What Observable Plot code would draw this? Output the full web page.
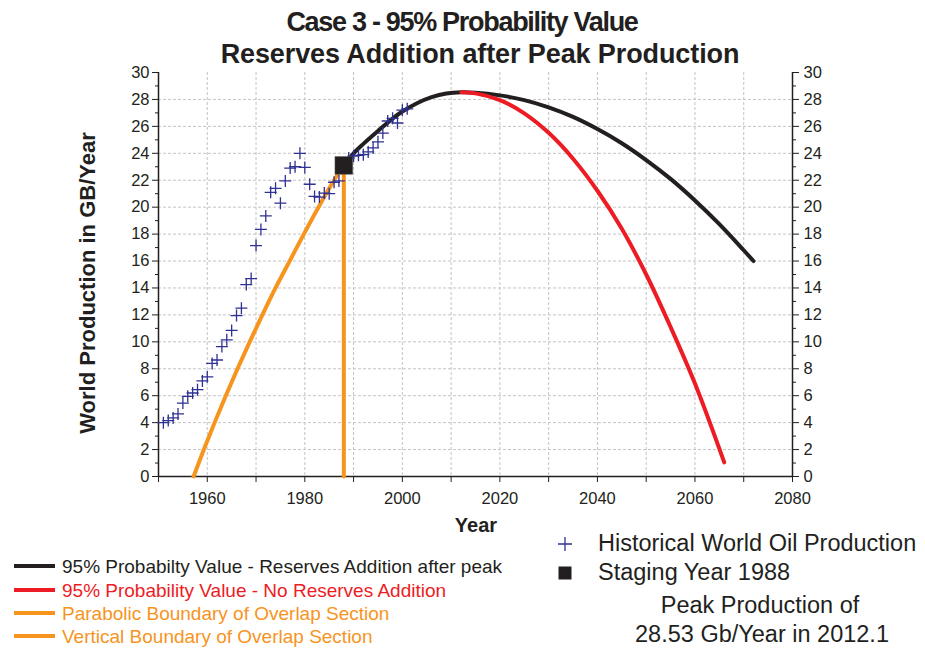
<!DOCTYPE html>
<html><head><meta charset="utf-8">
<script src="https://cdn.jsdelivr.net/npm/d3@7"></script>
<script src="https://cdn.jsdelivr.net/npm/@observablehq/plot@0.6"></script>
<style>
body{margin:0;background:#fff}
#wrap{position:relative;width:925px;height:649px;font-family:"Liberation Sans",Arial,sans-serif;color:#231f20;overflow:hidden}
#chart{position:absolute;left:0;top:0}
#chart svg text{font-size:16.5px !important;fill:#231f20}
.a{position:absolute;white-space:nowrap;line-height:1}
.c{transform:translate(-50%,-50%)}
.row{position:absolute;display:flex;align-items:center;white-space:nowrap;line-height:1}
.sw{display:inline-block;width:41px;height:4px;margin-right:7px}
</style></head><body>
<div id="wrap">
  <div id="chart"></div>
  <div class="a c" style="left:462px;top:22px;font-size:27px;font-weight:bold;letter-spacing:-1.3px">Case 3 - 95% Probability Value</div>
  <div class="a c" style="left:480px;top:54px;font-size:27px;font-weight:bold;letter-spacing:-0.1px">Reserves Addition after Peak Production</div>
  <div class="a" style="left:88px;top:283px;font-size:22px;font-weight:bold;transform:translate(-50%,-50%) rotate(-90deg)">World Production in GB/Year</div>
  <div class="a c" style="left:476px;top:525px;font-size:20px;font-weight:bold">Year</div>

  <div class="row" style="left:14px;top:556px;height:20px;font-size:19px;color:#231f20"><span class="sw" style="background:#231f20"></span>95% Probabilty Value - Reserves Addition after peak</div>
  <div class="row" style="left:14px;top:580px;height:20px;font-size:19px;color:#ed1c24"><span class="sw" style="background:#ed1c24"></span>95% Probability Value - No Reserves Addition</div>
  <div class="row" style="left:14px;top:603px;height:20px;font-size:19px;color:#f7941d"><span class="sw" style="background:#f7941d"></span>Parabolic Boundary of Overlap Section</div>
  <div class="row" style="left:14px;top:626px;height:20px;font-size:19px;color:#f7941d"><span class="sw" style="background:#f7941d"></span>Vertical Boundary of Overlap Section</div>

  <div class="row" style="left:555px;top:531px;height:26px;font-size:23.5px"><svg width="20" height="20" style="margin-right:23px"><path d="M3,10H17M10,3V17" stroke="#2e3192" stroke-width="1.3"/></svg>Historical World Oil Production</div>
  <div class="row" style="left:555px;top:560px;height:26px;font-size:23.5px"><svg width="20" height="20" style="margin-right:23px"><rect x="3.5" y="3.5" width="13" height="13" fill="#231f20"/></svg>Staging Year 1988</div>
  <div class="a c" style="left:760px;top:606px;font-size:23.5px">Peak Production of</div>
  <div class="a c" style="left:762px;top:635px;font-size:23.5px">28.53 Gb/Year in 2012.1</div>
</div>
<script>
// Historical world oil production (Gb/year)
const histYears = [1951,1952,1953,1954,1955,1956,1957,1958,1959,1960,1961,1962,1963,1964,1965,1966,1967,1968,1969,1970,1971,1972,1973,1974,1975,1976,1977,1978,1979,1980,1981,1982,1983,1984,1985,1986,1987,1988,1989,1990,1991,1992,1993,1994,1995,1996,1997,1998,1999,2000,2001];
const histValues = [4.0,4.15,4.35,4.65,5.45,5.95,6.2,6.45,7.1,7.4,8.4,8.65,9.65,10.15,10.85,11.95,12.5,14.25,14.7,17.15,18.35,19.35,21.1,21.4,20.3,21.95,22.9,23.0,24.0,22.95,21.7,20.8,20.75,21.05,21.0,21.85,21.95,23.1,23.65,23.8,23.85,23.9,24.1,24.4,24.85,25.5,26.4,26.6,26.25,27.2,27.3];

// 95% Probability value - reserves addition after peak
const blackYears = [1988,1990,1992,1995,1998,2000,2003,2006,2009,2012.1,2015,2020,2025,2030,2035,2040,2045,2050,2055,2060,2065,2070,2072];
const blackValues = [23.1,24.0,24.7,25.66,26.58,27.1,27.72,28.17,28.44,28.53,28.5,28.3,27.95,27.41,26.7,25.8,24.75,23.5,22.1,20.5,18.74,16.8,16.0];

// 95% Probability value - no reserves addition
const redYears = [2012.1,2015,2020,2025,2030,2035,2040,2045,2050,2055,2060,2066];
const redValues = [28.53,28.45,27.95,26.97,25.52,23.6,21.22,18.4,15.0,11.1,6.9,1.05];

// Parabolic boundary of overlap section
const paraYears = [1957.2,1959.3,1961.5,1963.8,1966.2,1968.7,1971.3,1974.0,1976.9,1979.8,1982.8,1986.0,1988];
const paraValues = [0,2,4,6,8,10,12,14,16,18,20,22,23.1];

// Vertical boundary & staging year
const stagingYear = [1988];
const stagingValue = [23.1];
const verticalValues = [0, 23.1];

const xTicks = [1950,1960,1970,1980,1990,2000,2010,2020,2030,2040,2050,2060,2070,2080];
const yTicks = [0,2,4,6,8,10,12,14,16,18,20,22,24,26,28,30];
const yMinor = [1,3,5,7,9,11,13,15,17,19,21,23,25,27,29];

const hist = histYears.map((x, i) => ({x, y: histValues[i]}));
const black = blackYears.map((x, i) => ({x, y: blackValues[i]}));
const red = redYears.map((x, i) => ({x, y: redValues[i]}));
const para = paraYears.map((x, i) => ({x, y: paraValues[i]}));
const vert = verticalValues.map(y => ({x: stagingYear[0], y}));
const stage = stagingYear.map((x, i) => ({x, y: stagingValue[i]}));

const cross = {draw(ctx, size){const r = Math.sqrt(size/Math.PI); ctx.moveTo(-r,0); ctx.lineTo(r,0); ctx.moveTo(0,-r); ctx.lineTo(0,r);}};
const ink = "#231f20";

const chart = Plot.plot({
  width: 925, height: 649,
  marginLeft: 158, marginRight: 133, marginTop: 72, marginBottom: 173,
  style: {fontFamily: "'Liberation Sans', Arial, sans-serif", fontSize: "16px", color: ink, background: "transparent"},
  x: {domain: [1950, 2080]},
  y: {domain: [0, 30]},
  marks: [
    Plot.gridX(xTicks.filter(d => d > 1950 && d < 2080), {stroke: "#c4c4c4", strokeOpacity: 1, strokeDasharray: "3,2"}),
    Plot.gridY(yTicks.filter(d => d > 0 && d < 30), {stroke: "#c4c4c4", strokeOpacity: 1, strokeDasharray: "3,2"}),
    Plot.axisX(xTicks, {tickSize: 6, tickPadding: 10, tickFormat: d => d % 20 === 0 && d > 1950 ? String(d) : "", label: null, stroke: ink}),
    Plot.axisY(yTicks, {anchor: "left", tickSize: 6, tickPadding: 3, label: null, stroke: ink}),
    Plot.axisY(yMinor, {anchor: "left", tickSize: 3, tickFormat: () => "", label: null, stroke: ink}),
    Plot.axisY(yTicks, {anchor: "right", tickSize: 6, tickPadding: 5, label: null, stroke: ink}),
    Plot.axisY(yMinor, {anchor: "right", tickSize: 3, tickFormat: () => "", label: null, stroke: ink}),
    Plot.ruleX([1950, 2080], {stroke: ink, strokeWidth: 1.5}),
    Plot.ruleY([0], {stroke: ink, strokeWidth: 1.5}),
    Plot.line(para, {x: "x", y: "y", stroke: "#f7941d", strokeWidth: 4, curve: "catmull-rom"}),
    Plot.line(vert, {x: "x", y: "y", stroke: "#f7941d", strokeWidth: 4}),
    Plot.line(black, {x: "x", y: "y", stroke: ink, strokeWidth: 4, curve: "catmull-rom"}),
    Plot.line(red, {x: "x", y: "y", stroke: "#ed1c24", strokeWidth: 4, curve: "catmull-rom"}),
    Plot.dot(hist, {x: "x", y: "y", symbol: cross, r: 6, stroke: "#2e3192", fill: "none", strokeWidth: 1.3}),
    Plot.dot(stage, {x: "x", y: "y", symbol: "square", r: 10, fill: ink, stroke: "#555", strokeWidth: 0.5})
  ]
});
document.getElementById("chart").appendChild(chart);
</script>
</body></html>
